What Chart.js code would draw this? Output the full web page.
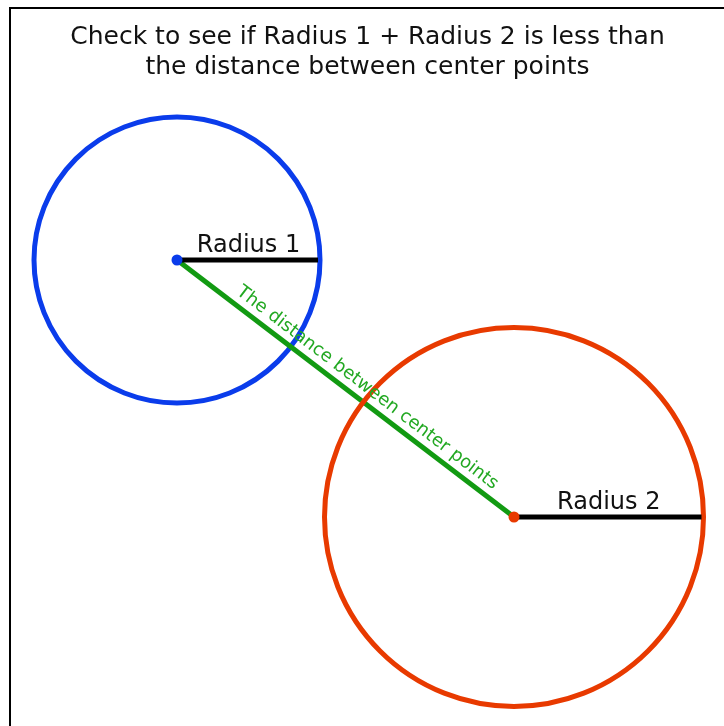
<!DOCTYPE html>
<html>
<head>
  <title>Radius check</title>
  <script src="https://cdn.jsdelivr.net/npm/chart.js"></script>
  <style>
    body { margin: 0; overflow: hidden; background: #fff; }
    #frame { position: absolute; left: 9px; top: 7px; width: 760px; height: 760px;
             border-left: 2px solid #000; border-top: 2px solid #000; }
    #chart { position: absolute; left: 0; top: 0; }
  </style>
</head>
<body>
  <div id="frame"></div>
  <canvas id="chart" width="724" height="726"></canvas>

  <script>
    // Diagram data (units = picture pixels)
    const circleNames = ['Radius 1', 'Radius 2'];
    const centerX = [177, 514];
    const centerY = [260, 517];
    const radii = [143, 189.5];
    const titleLines = ['Check to see if Radius 1 + Radius 2 is less than', 'the distance between center points'];
    const distanceLabel = 'The distance between center points';

    const FONT = "'DejaVu Sans', Verdana, sans-serif";
    const circleColors = ['#0a3ceb', '#e83a00'];
    const greenLine = '#129a12';
    const greenText = '#22a822';

    // radius in pixels
    function radiusPx(chart, i) {
      const x = chart.scales.x;
      return x.getPixelForValue(centerX[i] + radii[i]) - x.getPixelForValue(centerX[i]);
    }

    const datasets = [];
    // big circles
    circleNames.forEach((name, i) => {
      datasets.push({
        label: name + ' circle',
        data: [{ x: centerX[i], y: centerY[i] }],
        pointRadius: c => radiusPx(c.chart, i),
        pointBackgroundColor: 'rgba(0,0,0,0)',
        pointBorderColor: circleColors[i],
        pointBorderWidth: 5,
        order: i === 0 ? 6 : 4
      });
    });
    // distance between center points
    datasets.push({
      label: 'distance',
      data: centerX.map((x, i) => ({ x: x, y: centerY[i] })),
      showLine: true,
      borderColor: greenLine,
      borderWidth: 5,
      pointRadius: 0,
      order: 5
    });
    // radius lines + center dots
    circleNames.forEach((name, i) => {
      datasets.push({
        label: name,
        data: [{ x: centerX[i], y: centerY[i] }, { x: centerX[i] + radii[i] - 2, y: centerY[i] }],
        showLine: true,
        borderColor: '#000',
        borderWidth: 5,
        pointRadius: 0,
        order: 2
      });
      datasets.push({
        label: name + ' center',
        data: [{ x: centerX[i], y: centerY[i] }],
        pointRadius: 5.5,
        pointBackgroundColor: circleColors[i],
        pointBorderWidth: 0,
        order: 1
      });
    });

    // text labels placed through the scales
    const labelPlugin = {
      id: 'labels',
      afterDatasetsDraw(chart) {
        const c = chart.ctx;
        const xs = chart.scales.x, ys = chart.scales.y;
        c.save();
        c.font = '24px ' + FONT;
        c.fillStyle = '#111';
        c.textAlign = 'center';
        c.textBaseline = 'alphabetic';
        circleNames.forEach((name, i) => {
          const mx = xs.getPixelForValue(centerX[i] + radii[i] / 2);
          const my = ys.getPixelForValue(centerY[i]);
          c.fillText(name, mx, my - 8);
        });
        // rotated label along the green line
        const x1 = xs.getPixelForValue(centerX[0]), y1 = ys.getPixelForValue(centerY[0]);
        const x2 = xs.getPixelForValue(centerX[1]), y2 = ys.getPixelForValue(centerY[1]);
        const ang = Math.atan2(y2 - y1, x2 - x1);
        const t = 0.54;
        c.translate(x1 + (x2 - x1) * t, y1 + (y2 - y1) * t);
        c.rotate(ang);
        c.font = '18px ' + FONT;
        c.fillStyle = greenText;
        c.fillText(distanceLabel, 0, -9);
        c.restore();
      }
    };

    const chart = new Chart(document.getElementById('chart'), {
      type: 'scatter',
      data: { datasets: datasets },
      options: {
        responsive: false,
        animation: false,
        layout: { padding: { left: 11 }, autoPadding: false },
        scales: {
          x: { type: 'linear', min: 0, max: 724, display: false },
          y: { type: 'linear', min: 0, max: 726, reverse: true, display: false }
        },
        plugins: {
          legend: { display: false },
          tooltip: { enabled: false },
          title: {
            display: true,
            text: titleLines,
            color: '#111',
            font: { family: FONT, size: 25, weight: 'normal', lineHeight: 1.22 },
            padding: { top: 22, bottom: 6 }
          }
        }
      },
      plugins: [labelPlugin]
    });

    // map data units 1:1 onto the canvas pixels below the title
    const area = chart.chartArea;
    chart.options.scales.x.min = area.left;
    chart.options.scales.x.max = area.right;
    chart.options.scales.y.min = area.top;
    chart.options.scales.y.max = area.bottom;
    chart.update('none');
  </script>
</body>
</html>
